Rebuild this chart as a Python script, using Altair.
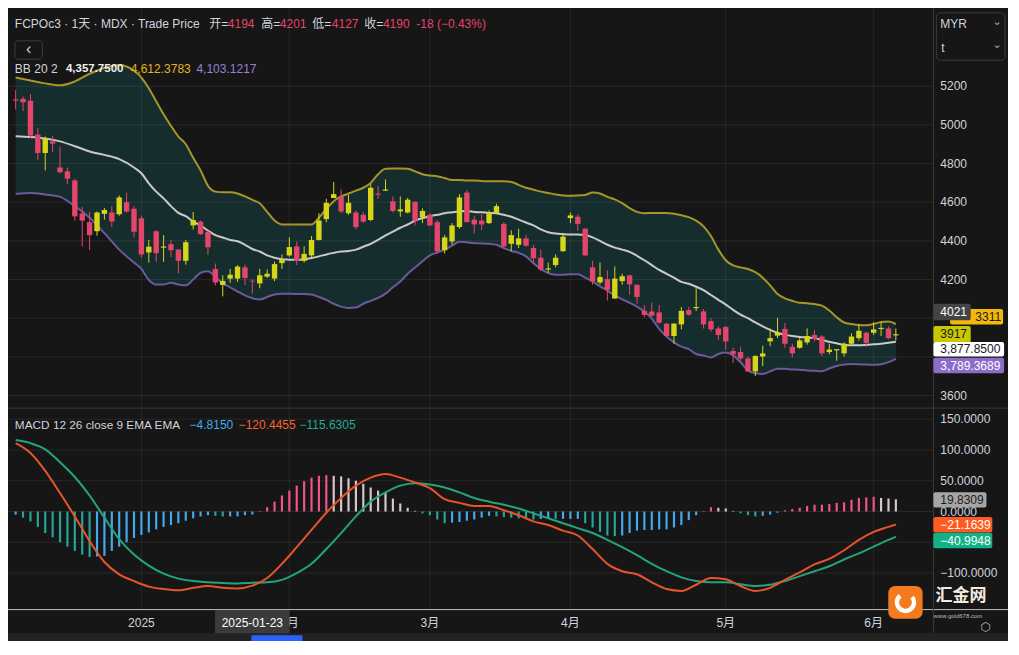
import altair as alt
import pandas as pd

W, H = 1000, 633
SX, SY = W / 1019, H / 655
def px(x): return x * SX
def py(y): return y * SY

FONT = "Liberation Sans, Noto Sans CJK SC, sans-serif"
BG = "#161616"
AXC = "#d1d4dc"
UP, DOWN = "#d6d51a", "#e4456b"
C_UPPER, C_MID, C_LOWER, C_FILL = "#a8952a", "#c9c9c9", "#6a5a9c", "#162d2e"
C_MACD, C_SIG = "#e8542a", "#22a57f"

# ---------------- data ----------------
opens = [5132,5135,5125,4950,4855,4915,4780,4760,4713,4542,4497,4450,4540,4547,4538,4600,4567,4517,4340,4450,
         4365,4383,4355,4297,4480,4500,4447,4255,4172,4205,4205,4263,4194,4180,4215,4205,4285,4325,4372,4297,
         4325,4405,4513,4622,4630,4543,4547,4535,4508,4645,4660,4605,4553,4547,4602,4522,4535,4497,4352,4397,
         4472,4650,4510,4505,4492,4543,4488,4385,4380,4413,4363,4313,4252,4275,4347,4518,4525,4463,4263,4185,
         4202,4102,4192,4222,4173,4038,4035,4030,3972,3908,3968,4042,4052,4035,3985,3947,3955,3830,3825,3792,
         3725,3802,3880,3910,3945,3852,3847,3875,3913,3905,3825,3834,3818,3868,3897,3925,3925,3944,3947,3911]
highs = [5180,5147,5160,4985,4940,4942,4888,4780,4722,4575,4550,4552,4570,4580,4635,4650,4580,4530,4405,4455,
         4430,4405,4358,4405,4550,4505,4455,4283,4222,4255,4275,4277,4201,4255,4252,4293,4330,4418,4397,4372,
         4425,4543,4618,4705,4667,4638,4558,4550,4693,4685,4718,4630,4630,4622,4605,4568,4543,4508,4430,4492,
         4642,4663,4530,4538,4558,4592,4497,4455,4463,4430,4380,4355,4288,4330,4442,4547,4538,4465,4297,4288,
         4247,4268,4230,4225,4175,4067,4080,4068,3975,3975,4058,4058,4155,4047,4002,3958,3958,3847,3852,3802,
         3808,3858,3947,4002,3975,3868,3902,3947,3938,3913,3868,3840,3875,3922,3968,3930,3980,3980,3958,3947]
lows = [5080,5072,4930,4820,4765,4860,4750,4693,4505,4372,4352,4427,4510,4472,4530,4545,4418,4313,4288,4292,
        4292,4317,4233,4277,4460,4430,4327,4170,4113,4183,4188,4172,4127,4155,4208,4192,4255,4318,4275,4288,
        4313,4402,4497,4620,4543,4535,4460,4492,4502,4617,4658,4547,4525,4542,4480,4492,4478,4335,4335,4380,
        4463,4495,4438,4455,4488,4538,4363,4347,4363,4370,4288,4243,4235,4263,4342,4492,4452,4322,4173,4175,
        4092,4100,4173,4122,4075,4005,4008,3972,3905,3868,3942,4012,4038,3947,3930,3888,3838,3768,3780,3722,
        3702,3752,3855,3897,3847,3797,3842,3863,3880,3805,3813,3780,3802,3858,3885,3852,3913,3908,3892,3885]
closes = [5126,5117,4945,4855,4930,4903,4755,4722,4527,4505,4430,4547,4560,4500,4625,4552,4447,4330,4370,4337,
          4371,4352,4297,4393,4508,4435,4367,4185,4193,4225,4267,4208,4190,4222,4230,4280,4305,4368,4297,4333,
          4405,4505,4597,4642,4552,4597,4472,4500,4675,4639,4666,4555,4563,4613,4505,4555,4480,4347,4418,4480,
          4625,4497,4485,4485,4542,4580,4372,4430,4413,4375,4310,4252,4258,4313,4422,4532,4488,4325,4190,4213,
          4147,4205,4217,4175,4110,4017,4013,3977,3908,3972,4038,4018,4058,3968,3942,3913,3880,3813,3792,3725,
          3805,3818,3897,3925,3868,3818,3885,3908,3892,3818,3838,3840,3868,3905,3935,3872,3942,3950,3897,3917]

band_idx = [0, 2, 4, 6, 8, 10, 12, 14, 16] + list(range(17, 120))
bb_upper = [5245,5230,5215,5205,5225,5265,5295,5310,5280,
            5245,5190,5122,5055,4995,4940,4900,4830,4765,4685,4655,4652,4652,4645,4630,4612,4595,4550,4505,4485,
            4485,4485,4485,4485,4520,4565,4605,4630,4645,4660,4675,4700,4745,4773,4775,4775,4773,4760,4745,4738,
            4735,4725,4715,4715,4712,4712,4710,4708,4708,4708,4705,4690,4675,4665,4655,4648,4640,4635,4633,4635,
            4638,4650,4645,4628,4615,4595,4570,4550,4543,4545,4545,4545,4540,4533,4523,4505,4475,4425,4355,4300,
            4273,4263,4255,4238,4210,4170,4125,4103,4090,4080,4078,4073,4065,4040,4005,3978,3970,3965,3964,3970,
            3980,3983,3970]
bb_mid = [4942,4938,4930,4915,4890,4863,4845,4823,4780,
          4750,4698,4655,4620,4580,4545,4528,4500,4480,4453,4430,4418,4405,4398,4380,4358,4345,4325,4313,4305,
          4303,4302,4305,4312,4320,4330,4338,4345,4348,4355,4370,4385,4405,4428,4448,4468,4485,4505,4518,4528,
          4535,4543,4548,4553,4555,4550,4548,4545,4543,4535,4525,4510,4495,4480,4460,4445,4438,4435,4433,4433,
          4430,4418,4400,4380,4365,4355,4343,4323,4300,4275,4250,4230,4210,4188,4178,4163,4145,4120,4095,4070,
          4043,4018,4000,3978,3958,3940,3925,3915,3908,3903,3900,3897,3888,3878,3870,3863,3860,3860,3862,3865,
          3868,3873,3878]
bb_lower = [4643,4648,4640,4628,4580,4520,4440,4355,4288,
            4255,4198,4175,4175,4183,4175,4170,4200,4235,4243,4215,4180,4160,4138,4118,4103,4097,4110,4123,4127,
            4127,4125,4125,4123,4110,4095,4075,4060,4053,4055,4075,4090,4105,4127,4160,4190,4230,4262,4295,4325,
            4340,4355,4375,4395,4393,4388,4387,4385,4380,4363,4348,4338,4320,4285,4255,4233,4225,4225,4227,4227,
            4210,4190,4165,4143,4118,4098,4080,4060,4035,3998,3945,3905,3875,3853,3840,3815,3807,3797,3815,3822,
            3808,3772,3730,3715,3712,3725,3738,3738,3735,3734,3730,3728,3725,3740,3753,3760,3763,3762,3760,3759,
            3762,3773,3790]

macd_idx = list(range(0, 120, 2)) + [119]
macd_line = [111,95,66,30,-8,-48,-82,-102,-113,-122,-126,-128,-124,-121,-124,-125,-120.4455,-108,-85,-58,
             -30,-2,22,42,55,61,55,47,38,20,14,9,9,2,-6,-16,-22,-31,-39,-61,
             -85,-97,-102,-115,-126,-129,-119,-108,-110,-121,-129,-124,-111,-99,-86,-77,-63,-46,-33,-25,-21.1639]
signal_line = [116,111,101,80,56,26,-10,-45,-70,-88,-101,-109,-113,-115,-116,-117,-115.6305,-115,-111,-100,
               -85,-61,-35,-8,16,31,42,46,44,39,31,22,16,11,5,-3,-11,-19,-27,-35,
               -46,-58,-71,-85,-97,-107,-113,-115,-115,-118,-121,-119,-113,-105,-97,-89,-78,-68,-57,-46,-40.9948]
macd_hist = [-5,-10,-16,-25,-35,-42,-50,-57,-64,-70,-74,-73,-72,-64,-57,-50,-43,-38,-34,-29,
             -25,-22,-19,-15,-11,-8,-6,-7,-8,-8,-8,-6,-4.815,1,7,16,26,34,42,49,
             55,58,59,58,57,54,50,45,39,34,30,21,13,6,1,-3,-6,-13,-19,-18,
             -17,-15,-13,-10,-7,-8,-9,-10,-11,-12,-13,-12,-11,-12,-12,-12,-12,-19,-26,-33,
             -39,-40,-39,-35,-31,-30,-30,-29,-29,-26,-22,-14,-6,1,7,6,5,1,-3,-6,
             -8,-7,-5,-2,2,4,6,9,11,11,12,14,15,19,22,23,24,22,21,19.8309]

price_ticks = [3600, 3800, 4000, 4200, 4400, 4600, 4800, 5000, 5200]
price_labels = [5200, 5000, 4800, 4600, 4400, 4200, 3600]
macd_ticks = [-100, -50, 0, 50, 100, 150]
macd_labels = [150, 100, 50, 0, -100]
time_idx = [17, 37, 56, 75, 96, 116]
time_lbl = ["2025", "2月", "3月", "4月", "5月", "6月"]
cross_idx, cross_date = 32, "2025-01-23"
last_close, ref_line = 3917, 4021
upper_tail = "3311"   # visible tail of the partly hidden upper-band label

n = len(closes)
candles = pd.DataFrame({"i": range(n), "o": opens, "h": highs, "l": lows, "c": closes})
bands = pd.DataFrame({"i": band_idx, "up": bb_upper, "mid": bb_mid, "lo": bb_lower})
macd = pd.DataFrame({"i": macd_idx, "m": macd_line, "s": signal_line})
kinds = []
for k, v in enumerate(macd_hist):
    p = macd_hist[k - 1] if k > 0 else v
    if v >= 0:
        kinds.append("pu" if v >= p else "pd")
    else:
        kinds.append("nd" if v < p else "nu")
hist = pd.DataFrame({"i": range(len(macd_hist)), "v": macd_hist, "z": 0, "k": kinds})

# ---------------- scales ----------------
XS = alt.Scale(domain=[0, n - 1], range=[px(2.7), px(2.7 + 7.623 * (n - 1))], nice=False, zero=False)
PS = alt.Scale(domain=[3600, 5200], range=[py(401), py(81)], nice=False, zero=False)
MS = alt.Scale(domain=[-100, 150], range=[py(584.7), py(425.45)], nice=False, zero=False)

def X(f="i"): return alt.X(f + ":Q", scale=XS, axis=None)
def YP(f): return alt.Y(f + ":Q", scale=PS, axis=None)
def YM(f): return alt.Y(f + ":Q", scale=MS, axis=None)

ONE = pd.DataFrame({"d": [0]})

def T(s, x, y, color, size=12, weight="normal", align="left", font=FONT):
    return alt.Chart(ONE).mark_text(align=align, baseline="middle", font=font, fontSize=size,
                                    fontWeight=weight, color=color).encode(
        x=alt.value(px(x)), y=alt.value(py(y)), text=alt.value(s))

def R(x1, y1, x2, y2, fill, stroke=None, radius=0):
    kw = dict(fill=fill, cornerRadius=radius)
    if stroke:
        kw.update(stroke=stroke, strokeWidth=1)
    return alt.Chart(ONE).mark_rect(**kw).encode(
        x=alt.value(px(x1)), x2=alt.value(px(x2)), y=alt.value(py(y1)), y2=alt.value(py(y2)))

def HL(y, x1, x2, color, w=1):
    return alt.Chart(ONE).mark_rule(color=color, strokeWidth=w).encode(
        x=alt.value(px(x1)), x2=alt.value(px(x2)), y=alt.value(py(y)))

def VL(x, y1, y2, color, w=1):
    return alt.Chart(ONE).mark_rule(color=color, strokeWidth=w).encode(
        x=alt.value(px(x)), y=alt.value(py(y1)), y2=alt.value(py(y2)))

def LBL(value, scale, x1, x2, h, dy, fill, tcolor, fmt=None, tx=950, talign="left", label=None):
    d = pd.DataFrame({"v": [value], "t": [label if label is not None else ""]})
    box = alt.Chart(d).mark_tick(orient="horizontal", size=px(x2 - x1), thickness=py(h), color=fill,
                                 opacity=1, cornerRadius=2, yOffset=py(dy)).encode(
        x=alt.value(px((x1 + x2) / 2)), y=alt.Y("v:Q", scale=scale, axis=None))
    text = alt.Text("t:N") if label is not None else alt.Text("v:Q", format=fmt)
    txt = alt.Chart(d).mark_text(align=talign, baseline="middle", font=FONT, fontSize=12,
                                 color=tcolor, yOffset=py(dy)).encode(
        x=alt.value(px(tx)), y=alt.Y("v:Q", scale=scale, axis=None), text=text)
    return [box, txt]

GRID = "rgba(255,255,255,0.075)"
layers = []

# Bollinger fill
layers.append(alt.Chart(bands).mark_area(color=C_FILL, opacity=1).encode(x=X(), y=YP("lo"), y2="up:Q"))
# grid
layers.append(alt.Chart(pd.DataFrame({"v": price_ticks})).mark_rule(color=GRID).encode(
    y=YP("v"), x=alt.value(0), x2=alt.value(px(943))))
layers.append(alt.Chart(pd.DataFrame({"v": macd_ticks})).mark_rule(color=GRID).encode(
    y=YM("v"), x=alt.value(0), x2=alt.value(px(943))))
layers.append(alt.Chart(pd.DataFrame({"i": time_idx})).mark_rule(color=GRID).encode(
    x=X(), y=alt.value(0), y2=alt.value(py(622))))
# bands
for f, col in [("up", C_UPPER), ("lo", C_LOWER), ("mid", C_MID)]:
    layers.append(alt.Chart(bands).mark_line(color=col, strokeWidth=2, interpolate="monotone").encode(
        x=X(), y=YP(f)))
# candles
cc = alt.condition("datum.c >= datum.o", alt.value(UP), alt.value(DOWN))
layers.append(alt.Chart(candles).mark_rule(strokeWidth=1).encode(x=X(), y=YP("l"), y2="h:Q", color=cc))
layers.append(alt.Chart(candles).mark_bar(size=px(5.5)).encode(x=X(), y=YP("o"), y2="c:Q", color=cc))
# MACD histogram
layers.append(alt.Chart(hist).mark_bar(size=px(2.2)).encode(
    x=X(), y=YM("v"), y2="z:Q",
    color=alt.Color("k:N", legend=None,
                    scale=alt.Scale(domain=["pu", "pd", "nd", "nu"],
                                    range=["#f0548a", "#d9c6cc", "#24a69a", "#45a9f0"]))))
layers.append(alt.Chart(macd).mark_line(color=C_SIG, strokeWidth=2, interpolate="monotone").encode(x=X(), y=YM("s")))
layers.append(alt.Chart(macd).mark_line(color=C_MACD, strokeWidth=2, interpolate="monotone").encode(x=X(), y=YM("m")))

# separators / frame
layers.append(HL(414, 0, 1019, "#3a3a3a"))
layers.append(HL(622.5, 0, 1019, "#bdbdbd"))
layers.append(VL(943, 0, 647, "#3a3a3a"))

# header
layers += [
    T("FCPOc3 · 1天 · MDX · Trade Price", 7, 17, AXC),
    T("开=", 205, 17, AXC), T("4194", 224, 17, DOWN),
    T("高=", 258, 17, AXC), T("4201", 277, 17, DOWN),
    T("低=", 310, 17, AXC), T("4127", 330, 17, DOWN),
    T("收=", 363, 17, AXC), T("4190", 382, 17, DOWN),
    T("-18 (−0.43%)", 416, 17, DOWN),
    R(7, 34, 35, 53, BG, "#3d3d3d", 3),
    T("‹", 21, 42.5, AXC, size=16, align="center"),
    T("BB 20 2", 7, 63, AXC),
    T("4,357.7500", 59, 63, "#f0f0f0", size=11.5, weight="bold"),
    T("4,612.3783", 125, 63, "#e3b21e"),
    T("4,103.1217", 192, 63, "#9a7fd6"),
    T("MACD 12 26 close 9 EMA EMA", 7, 432, AXC, size=11.8),
    T("−4.8150", 185, 432, "#45a9f0"),
    T("−120.4455", 235, 432, "#f7632a"),
    T("−115.6305", 297, 432, "#22ab94"),
]

# right axis: currency box
layers += [
    R(946, 5, 1016, 54, BG, "#3c3c3c", 4),
    T("MYR", 950, 17, AXC),
    T("⌄", 1008, 14, "#aaaaaa", size=11, align="center", font="DejaVu Sans"),
    T("t", 951, 41, AXC),
    T("⌄", 1008, 38, "#aaaaaa", size=11, align="center", font="DejaVu Sans"),
]
# axis labels
layers.append(alt.Chart(pd.DataFrame({"v": price_labels})).mark_text(
    align="left", baseline="middle", font=FONT, fontSize=12, color=AXC).encode(
    x=alt.value(px(950)), y=YP("v"), text=alt.Text("v:Q", format="d")))
layers.append(alt.Chart(pd.DataFrame({"v": macd_labels})).mark_text(
    align="left", baseline="middle", font=FONT, fontSize=12, color=AXC).encode(
    x=alt.value(px(950)), y=YM("v"), text=alt.Text("v:Q", format=".4f")))

# last-value labels
layers += LBL(bb_upper[-1], PS, 960, 1014, 16, -7.5, "#f2b90c", "#1a1a1a", tx=1012, talign="right", label=upper_tail)
layers += LBL(ref_line, PS, 943, 981, 17, -2.3, "#444444", "#ffffff", "d")
layers += LBL(last_close, PS, 943, 981, 17, 0, "#c9c800", "#1a1a1a", "d")
layers += LBL(3877.85, PS, 943, 1015, 15, 7.6, "#ffffff", "#131722", ",.4f")
layers += LBL(3789.3689, PS, 943, 1015, 16, 6.9, "#8c6cc8", "#ffffff", ",.4f")
layers += LBL(macd_hist[-1], MS, 943, 997, 16, 0.6, "#a6a6a6", "#1a1a1a", ".4f")
layers += LBL(macd_line[-1], MS, 943, 1003, 16, 0.2, "#ff5a1f", "#ffffff", ".4f")
layers += LBL(signal_line[-1], MS, 943, 1003, 16, 4.0, "#12b286", "#ffffff", ".4f")

# time axis
layers.append(alt.Chart(pd.DataFrame({"i": time_idx, "t": time_lbl})).mark_text(
    align="center", baseline="middle", font=FONT, fontSize=12, color=AXC).encode(
    x=X(), y=alt.value(py(636)), text="t:N"))
cd = pd.DataFrame({"i": [cross_idx], "t": [cross_date]})
layers.append(alt.Chart(cd).mark_tick(orient="vertical", thickness=px(76), size=py(25), color="#3b3b3b",
                                      opacity=1).encode(x=X(), y=alt.value(py(635.5))))
layers.append(alt.Chart(cd).mark_text(align="center", baseline="middle", font=FONT, fontSize=12,
                                      color="#ffffff").encode(x=X(), y=alt.value(py(636)), text="t:N"))
# bottom strip
layers += [R(0, 647, 1019, 655, "#232323"), R(248, 649, 300, 655, "#2962ff")]

# watermark logo
layers += [
    R(897, 598, 932, 632, "#f47a20", radius=7),
    alt.Chart(ONE).mark_arc(radius=px(11), radius2=px(6.5), theta=0.9, theta2=5.6, color="#ffffff").encode(
        x=alt.value(px(914.5)), y=alt.value(py(615))),
    T("汇金网", 971, 608, "#f3ebe0", size=17, weight="bold", align="center", font="Noto Sans CJK SC"),
    T("www.gold678.com", 968, 629.5, "#bdbdbd", size=6, align="center"),
    T("⬡", 996, 640, "#b5b5b5", size=12, align="center", font="DejaVu Sans"),
]

chart = alt.layer(*layers).resolve_scale(y="independent", color="independent").properties(
    width=W, height=H, padding=0, autosize=alt.AutoSizeParams(type="none"), background=BG
).configure_view(strokeWidth=0)

chart.save("out.html", embed_options={"renderer": "svg", "actions": False})
